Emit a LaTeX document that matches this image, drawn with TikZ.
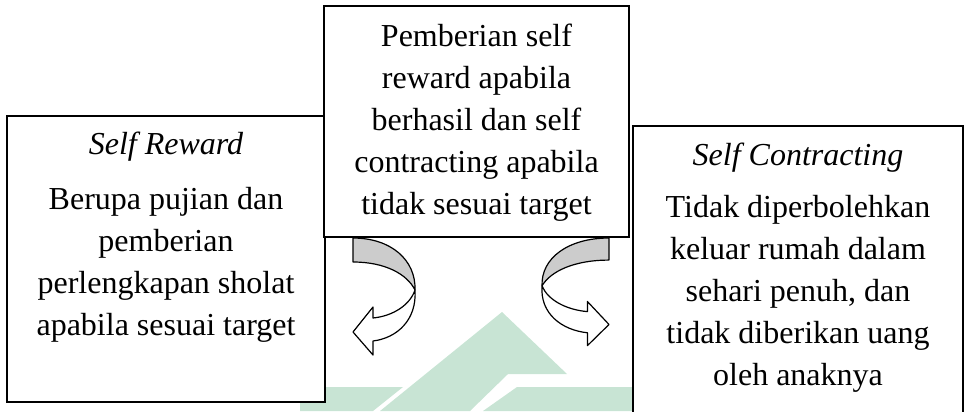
\documentclass[tikz,border=0pt]{standalone}
\usepackage{fontspec}
\setmainfont{Liberation Serif}
\definecolor{markgreen}{RGB}{200,228,212}
\newcommand{\twistarrow}{%
	\draw [ribbonback] (0,0) .. controls (38,0) and (63,22) .. (62,52) .. controls (54,36) and (32,24) .. (0,24) -- cycle;
	\draw [ribbonfront] (62,52) .. controls (64,82) and (44,100) .. (20,103) -- (20,117) -- (0,94) -- (20,69) -- (20,80) .. controls (40,78) and (57,67) .. (62,52) -- cycle;
}
\begin{document}
\begin{tikzpicture}[x = 0.75pt, y = -0.75pt,
	box/.style = {draw, fill = white, line width = 0.9pt, inner sep = 0pt},
	boxtext/.style = {font = \fontsize{24}{31.5}\selectfont, align = center, inner sep = 0pt},
	titletext/.style = {font = \fontsize{24}{31.5}\selectfont\itshape, inner sep = 0pt},
	ribbonback/.style = {fill = black!20, line width = 0.9pt, line join = round},
	ribbonfront/.style = {fill = white, line width = 0.9pt, line join = round}]
	\useasboundingbox (0,0) rectangle (966,411);
	\clip (0,0) rectangle (966,411);
	\fill [markgreen] (502,312) -- (567,374) -- (508,374) -- (470,411) -- (380,411) -- cycle;
	\fill [markgreen] (300,387) -- (403,387) -- (373,411) -- (300,411) -- cycle;
	\fill [markgreen] (517,387) -- (640,387) -- (640,411) -- (483,411) -- cycle;
	\node [box, minimum width = 238.5pt, minimum height = 214.5pt] (reward) at (166,259) {};
	\node [box, minimum width = 247.5pt, minimum height = 228pt] (contract) at (798,278) {};
	\node [box, minimum width = 228.75pt, minimum height = 173.25pt] (centre) at (476.5,121.5) {};
	\node [titletext] (rewardtitle) at (166,147) {Self Reward};
	\node [boxtext] (rewardtext) at (166,265) {Berupa pujian dan\\pemberian\\perlengkapan sholat\\apabila sesuai target};
	\node [boxtext] (centretext) at (476.5,123) {Pemberian self\\reward apabila\\berhasil dan self\\contracting apabila\\tidak sesuai target};
	\node [titletext] (contracttitle) at (798,158) {Self Contracting};
	\node [boxtext] (contracttext) at (798,294) {Tidak diperbolehkan\\keluar rumah dalam\\sehari penuh, dan\\tidak diberikan uang\\oleh anaknya};
	\begin{scope}[shift = {(353,238)}]
	\twistarrow
	\end{scope}
	\begin{scope}[shift = {(609,238)}, xscale = -1.08, yscale = 0.92]
	\twistarrow
	\end{scope}
\end{tikzpicture}
\end{document}
